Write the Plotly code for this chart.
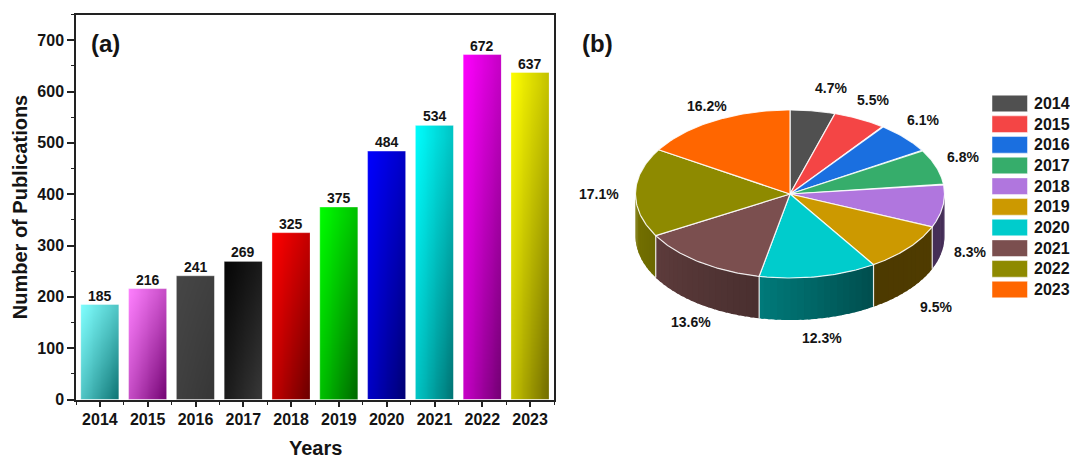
import numpy as np
import plotly.graph_objects as go

years = [2014, 2015, 2016, 2017, 2018, 2019, 2020, 2021, 2022, 2023]
publications = [185, 216, 241, 269, 325, 375, 484, 534, 672, 637]
bar_light = ["#80ffff", "#ff80ff", "#464646", "#060606", "#ff0000", "#00ff00", "#0000ff", "#00ffff", "#ff00ff", "#ffff00"]
bar_dark = ["#0a7070", "#700070", "#363636", "#3a3a3a", "#680000", "#006400", "#000070", "#007070", "#700070", "#6e6800"]
pie_colors = ["#505050", "#f44545", "#1a6fe0", "#36ad6b", "#b076de", "#cc9900", "#00cccc", "#7b4f4f", "#8e8a00", "#ff6600"]
pct_label_xy = [(831, 88), (873, 100), (923, 120), (963, 157), (970, 252), (936, 307), (822, 338), (691, 322), (599, 194), (707, 106)]

W, H = 1070, 459
FONT = "Liberation Sans"
INK = "#141414"
BAR_W = 0.8
CX, CY, RX, RY, DEPTH = 790, 194, 154.5, 84, 42

fig = go.Figure()

# ---- panel (a): gradient fills under real bars
N = 14
u = (np.arange(N) + 0.5) / N
corner = np.array([[0.0, 0.40], [0.40, 1.0]])
for yr, val, c0, c1 in zip(years, publications, bar_light, bar_dark):
    tz = [[(1 - vv) * ((1 - uu) * corner[0, 0] + uu * corner[0, 1]) + vv * ((1 - uu) * corner[1, 0] + uu * corner[1, 1])
           for uu in u] for vv in u[::-1]]
    fig.add_trace(go.Heatmap(
        x=yr - BAR_W / 2 + u * BAR_W, y=u * val, z=tz, zmin=0, zmax=1, zsmooth="best",
        colorscale=[[0, c0], [1, c1]], showscale=False, hoverinfo="skip", xaxis="x", yaxis="y"))

fig.add_trace(go.Bar(
    x=years, y=publications, width=BAR_W,
    marker=dict(color="rgba(0,0,0,0)", line=dict(color="rgba(255,255,255,0.35)", width=1)),
    xaxis="x", yaxis="y", showlegend=False))

# ---- panel (b): 3D pie built from the same values
total = sum(publications)
fractions = np.array(publications) / total
edges = np.concatenate([[0], np.cumsum(fractions)]) * 360


def shade(t):
    return np.interp(t, [90, 147, 191, 240, 270], [0.40, 0.38, 0.60, 0.76, 0.85])


def ex(t):
    return CX + RX * np.sin(np.radians(t))


def ey(t):
    return CY - RY * np.cos(np.radians(t))


def rgb(hexc, f=1.0):
    return "rgb(%d,%d,%d)" % tuple(int(int(hexc[i:i + 2], 16) * f) for i in (1, 3, 5))


for i, col in enumerate(pie_colors):
    a, b = edges[i], edges[i + 1]
    lo, hi = max(a, 90), min(b, 270)
    if hi > lo:
        steps = np.arange(lo, hi, 2.5).tolist() + [hi]
        for t0, t1 in zip(steps[:-1], steps[1:]):
            # each strip runs slightly into the next one so no seam shows
            arc = np.linspace(t0, min(t1 + 1.0, hi), 4)
            c = rgb(col, float(shade((t0 + t1) / 2)))
            fig.add_trace(go.Scatter(
                x=np.concatenate([ex(arc), ex(arc[::-1])]),
                y=np.concatenate([ey(arc), ey(arc[::-1]) + DEPTH]),
                mode="none", fill="toself", fillcolor=c,
                hoverinfo="skip", showlegend=False, xaxis="x2", yaxis="y2"))

for t in edges:
    if 90 < t < 270:
        fig.add_trace(go.Scatter(
            x=[ex(t), ex(t)], y=[ey(t), ey(t) + DEPTH], mode="lines",
            line=dict(color="rgba(255,255,255,0.85)", width=1.2),
            hoverinfo="skip", showlegend=False, xaxis="x2", yaxis="y2"))

for i, col in enumerate(pie_colors):
    arc = np.linspace(edges[i], edges[i + 1], 60)
    fig.add_trace(go.Scatter(
        x=np.concatenate([[CX], ex(arc), [CX]]),
        y=np.concatenate([[CY], ey(arc), [CY]]),
        mode="lines", fill="toself", fillcolor=col,
        line=dict(color="rgba(255,255,255,0.85)", width=1.2),
        name=str(years[i]), hoverinfo="name", showlegend=False, xaxis="x2", yaxis="y2"))

ann = [
    dict(text="<b>(a)</b>", x=88.5 / W, y=1 - 44 / H, xanchor="left", yanchor="middle", font=dict(size=24)),
    dict(text="<b>(b)</b>", x=580 / W, y=1 - 44 / H, xanchor="left", yanchor="middle", font=dict(size=24)),
    dict(text="<b>Years</b>", x=315 / W, y=1 - 447.5 / H, xanchor="center", yanchor="middle", font=dict(size=20)),
]
for frac, (lx, ly) in zip(fractions, pct_label_xy):
    ann.append(dict(text="<b>%.1f%%</b>" % (frac * 100), x=lx / W, y=1 - ly / H,
                    xanchor="center", yanchor="middle", font=dict(size=14)))

shapes = []
for i, (yr, col) in enumerate(zip(years, pie_colors)):
    yc = 103.5 + 20.67 * i
    shapes.append(dict(type="rect", xref="paper", yref="paper", x0=992 / W, x1=1027.5 / W,
                       y0=1 - (yc - 8.3) / H, y1=1 - (yc + 8.3) / H,
                       fillcolor=col, line=dict(color="rgba(255,255,255,0.6)", width=0.8)))
    ann.append(dict(text="<b>%d</b>" % yr, x=1031.5 / W, y=1 - yc / H, xanchor="left",
                    yanchor="middle", font=dict(size=16)))
for a_ in ann:
    a_.update(xref="paper", yref="paper", showarrow=False)
    a_["font"].update(family=FONT, color=INK)

# value labels sit on the bars, tied to the data axes
for yr, val in zip(years, publications):
    ann.append(dict(text="<b>%d</b>" % val, x=yr, y=val, xref="x", yref="y", xanchor="center", yanchor="bottom",
                    yshift=-1, showarrow=False, font=dict(family=FONT, size=14, color=INK)))

axis_common = dict(showgrid=False, zeroline=False, showline=True, mirror=True, linecolor="#222222", linewidth=1.5,
                   ticks="outside", tickcolor="#222222", tickwidth=1.5, automargin=False,
                   tickfont=dict(family=FONT, size=16, color=INK, weight="bold"))

fig.update_layout(
    width=W, height=H, margin=dict(l=0, r=0, t=0, b=0), paper_bgcolor="white", plot_bgcolor="white",
    barmode="overlay", showlegend=False, annotations=ann, shapes=shapes,
    xaxis=dict(domain=[76 / W, 554 / W], range=[2013.5, 2023.5], tickmode="array", tickvals=years, ticklen=6,
               ticktext=[str(y) for y in years], ticklabelstandoff=-1,
               minor=dict(ticks="outside", ticklen=3.5, tickcolor="#222222", tickwidth=1.2,
                          tickmode="linear", tick0=2013.5, dtick=1),
               **axis_common),
    yaxis=dict(domain=[1 - 399.5 / H, 1 - 14.5 / H], range=[0, 750], tick0=0, dtick=100, ticklen=7,
               minor=dict(ticks="outside", ticklen=3.5, tickcolor="#222222", tickwidth=1.2,
                          tickmode="linear", tick0=0, dtick=50),
               title=dict(text="Number of Publications", font=dict(family=FONT, size=20, color=INK, weight="bold"), standoff=4),
               **axis_common),
    xaxis2=dict(domain=[570 / W, 1], range=[570, W], visible=False, anchor="y2"),
    yaxis2=dict(domain=[0, 1], range=[H, 0], visible=False, anchor="x2"),
)

fig.write_html("out.html", config={"displayModeBar": False},
               post_script="document.body.style.margin='0';document.documentElement.style.overflow='hidden';")
